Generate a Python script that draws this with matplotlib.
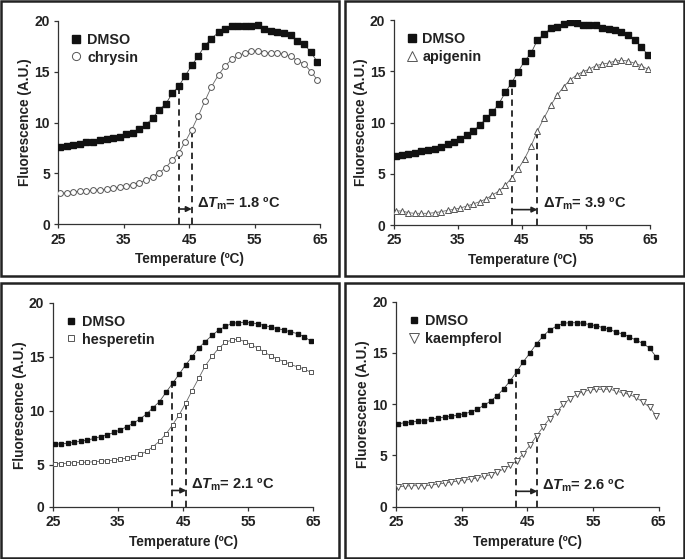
import numpy as np
import matplotlib.pyplot as plt
from matplotlib.patches import Rectangle

plt.rcParams['font.family'] = ['Liberation Sans', 'DejaVu Sans']
plt.rcParams['font.weight'] = 'bold'
plt.rcParams['mathtext.fontset'] = 'custom'
plt.rcParams['mathtext.rm'] = 'Liberation Sans:bold'
plt.rcParams['mathtext.it'] = 'Liberation Sans:bold:italic'
plt.rcParams['mathtext.bf'] = 'Liberation Sans:bold'

# temperatures (deg C) of the melt curve readings
temps = [25.3, 26.3, 27.3, 28.3, 29.3, 30.3, 31.4, 32.4, 33.4, 34.4,
         35.4, 36.4, 37.4, 38.4, 39.4, 40.4, 41.4, 42.4, 43.4, 44.4,
         45.4, 46.4, 47.4, 48.4, 49.5, 50.5, 51.5, 52.5, 53.5, 54.5,
         55.5, 56.5, 57.5, 58.5, 59.5, 60.5, 61.5, 62.6, 63.6, 64.6]

# panel A: DMSO vs chrysin
dmso_a = [7.6, 7.7, 7.8, 7.9, 8.05, 8.1, 8.25, 8.35, 8.5, 8.6,
          8.85, 9.0, 9.4, 9.8, 10.4, 11.25, 11.8, 12.85, 13.55, 14.6,
          15.6, 16.55, 17.55, 18.25, 18.85, 19.2, 19.5, 19.5, 19.5, 19.5,
          19.6, 19.2, 19.0, 18.9, 18.8, 18.6, 18.05, 17.7, 16.9, 15.95]
chrysin = [3.03, 3.1, 3.2, 3.23, 3.3, 3.33, 3.4, 3.45, 3.55, 3.65,
           3.8, 3.9, 4.1, 4.35, 4.65, 5.05, 5.55, 6.3, 7.0, 8.1,
           9.3, 10.65, 12.1, 13.5, 14.7, 15.55, 16.2, 16.6, 16.8, 17.0,
           17.05, 16.85, 16.85, 16.85, 16.7, 16.55, 16.05, 15.75, 15.0, 14.2]

# panel B: DMSO vs apigenin
dmso_b = [6.76, 6.83, 6.93, 7.02, 7.2, 7.28, 7.45, 7.64, 7.9, 8.13,
          8.42, 8.8, 9.2, 9.72, 10.4, 11.0, 11.84, 12.94, 13.9, 14.96,
          16.0, 16.75, 18.05, 18.6, 19.2, 19.35, 19.64, 19.8, 19.74, 19.48,
          19.48, 19.5, 19.22, 19.15, 19.0, 18.83, 18.54, 18.05, 17.4, 16.6]
apigenin = [1.37, 1.37, 1.2, 1.14, 1.14, 1.14, 1.2, 1.3, 1.43, 1.53,
            1.66, 1.85, 2.05, 2.28, 2.54, 2.93, 3.32, 3.87, 4.62, 5.46,
            6.47, 7.7, 9.17, 10.4, 11.7, 12.68, 13.5, 14.15, 14.63, 14.96,
            15.2, 15.54, 15.7, 15.8, 16.0, 16.07, 16.0, 15.77, 15.54, 15.2]

# panel C: DMSO vs hesperetin
dmso_c = [6.92, 6.95, 7.0, 7.1, 7.2, 7.3, 7.45, 7.63, 7.8, 8.0,
          8.25, 8.55, 8.86, 9.26, 9.7, 10.3, 10.86, 11.72, 12.55, 13.38,
          14.25, 15.0, 15.8, 16.4, 17.0, 17.48, 17.8, 18.1, 18.15, 18.2,
          18.12, 18.06, 17.88, 17.75, 17.6, 17.48, 17.3, 17.14, 16.86, 16.46]
hesperetin = [5.11, 5.11, 5.17, 5.2, 5.23, 5.26, 5.29, 5.35, 5.38, 5.45,
              5.54, 5.63, 5.78, 5.97, 6.25, 6.7, 7.2, 7.88, 8.7, 9.63,
              10.7, 11.88, 13.0, 14.15, 15.08, 15.8, 16.34, 16.55, 16.62, 16.4,
              16.1, 15.8, 15.42, 15.08, 14.8, 14.55, 14.3, 14.06, 13.88, 13.57]

# panel D: DMSO vs kaempferol
dmso_d = [8.07, 8.2, 8.27, 8.33, 8.39, 8.52, 8.65, 8.75, 8.81, 8.94,
          9.07, 9.24, 9.53, 9.89, 10.3, 10.83, 11.5, 12.3, 13.2, 14.15,
          15.0, 15.9, 16.65, 17.24, 17.63, 17.9, 17.95, 17.95, 17.9, 17.76,
          17.66, 17.46, 17.3, 17.04, 16.85, 16.59, 16.26, 15.93, 15.48, 14.63]
kaempferol = [1.95, 2.0, 2.05, 2.05, 2.05, 2.1, 2.2, 2.3, 2.4, 2.5,
              2.57, 2.7, 2.8, 2.96, 3.12, 3.38, 3.67, 4.03, 4.5, 5.17,
              6.0, 6.9, 7.8, 8.6, 9.27, 10.0, 10.54, 10.96, 11.22, 11.38,
              11.45, 11.45, 11.48, 11.28, 11.12, 10.96, 10.67, 10.2, 9.72, 8.88]

names = ['chrysin', 'apigenin', 'hesperetin', 'kaempferol']
markers = ['o', '^', 's', 'v']
tm_dmso = [43.4, 43.4, 43.3, 43.3]
tm_cmpd = [45.4, 47.4, 45.5, 46.5]
delta_tm = ['1.8', '3.9', '2.1', '2.6']

W, H = 685, 559
fig = plt.figure(figsize=(6.85, 5.59), dpi=100)

# axes boxes in pixels: left, top, right, bottom
boxes = [(58.3, 20.7, 320.0, 224.3),
         (393.7, 20.0, 650.3, 225.0),
         (52.7, 302.7, 313.3, 506.7),
         (396.0, 301.7, 658.7, 506.7)]
# panel frames in pixels
frames = [(1.2, 1.2, 338.7, 275.5),
          (345.3, 1.2, 683.7, 275.5),
          (1.2, 282.5, 338.7, 557.8),
          (345.3, 282.5, 683.7, 557.8)]

for l, t, r, b in frames:
    fig.patches.append(Rectangle((l / W, 1 - b / H), (r - l) / W, (b - t) / H,
                                 transform=fig.transFigure, fill=False,
                                 edgecolor='#222222', linewidth=1.8))

dmso_all = [dmso_a, dmso_b, dmso_c, dmso_d]
cmpd_all = [chrysin, apigenin, hesperetin, kaempferol]
msizes = [4.2, 4.8, 3.5, 4.8]

for i in range(4):
    l, t, r, b = boxes[i]
    ax = fig.add_axes([l / W, 1 - b / H, (r - l) / W, (b - t) / H])
    d = dmso_all[i]
    c = cmpd_all[i]
    ax.plot(temps, d, '-', color='#444444', lw=0.6, zorder=1)
    ax.plot(temps, c, '-', color='#666666', lw=0.6, zorder=1)
    h1, = ax.plot(temps, d, 's', color='#111111', ms=3.8 if i < 2 else 3.5,
                  mec='#111111', lw=0, zorder=3, label='DMSO')
    h2, = ax.plot(temps, c, markers[i], mfc='white', mec='#555555', mew=0.7,
                  ms=msizes[i], lw=0, zorder=3, label=names[i])

    ymin = 1.14 if i == 2 else 0
    y1 = np.interp(tm_dmso[i], temps, d)
    y2 = np.interp(tm_cmpd[i], temps, c)
    ax.plot([tm_dmso[i], tm_dmso[i]], [ymin, y1], '--', color='#222222',
            lw=1.3, dashes=(3.5, 2.5), zorder=2)
    ax.plot([tm_cmpd[i], tm_cmpd[i]], [ymin, y2], '--', color='#222222',
            lw=1.3, dashes=(3.5, 2.5), zorder=2)
    ya = ymin + 1.5
    ax.annotate('', xy=(tm_cmpd[i], ya), xytext=(tm_dmso[i], ya),
                arrowprops=dict(arrowstyle='-|>', color='#222222', lw=1.2,
                                shrinkA=0, shrinkB=0, mutation_scale=8))
    ax.text(tm_cmpd[i] + 0.8, ya + 0.55, 'Δ$\\mathit{T}_{\\mathrm{m}}$= ' + delta_tm[i] + ' ºC',
            fontsize=10.5, fontweight='bold', color='#222222', va='center', ha='left')

    ax.set_xlim(25, 65)
    ax.set_ylim(ymin, 20)
    ax.set_xticks([25, 35, 45, 55, 65])
    if i == 2:
        ax.set_yticks([ymin, 5, 10, 15, 20])
        ax.set_yticklabels(['0', '5', '10', '15', '20'])
    else:
        ax.set_yticks([0, 5, 10, 15, 20])
    for s in ['top', 'right']:
        ax.spines[s].set_visible(False)
    for s in ['left', 'bottom']:
        ax.spines[s].set_color('#333333')
        ax.spines[s].set_linewidth(0.9)
    ax.tick_params(length=3, width=0.9, color='#333333', labelsize=10,
                   labelcolor='#222222', pad=3)
    for lab in ax.get_xticklabels() + ax.get_yticklabels():
        lab.set_fontweight('bold')
    ax.set_xlabel('Temperature (ºC)', fontsize=9.8, fontweight='bold',
                  color='#222222', labelpad=4)
    ax.set_ylabel('Fluorescence (A.U.)', fontsize=9.8, fontweight='bold',
                  color='#222222', labelpad=1.5)
    ax.legend(handles=[h1, h2], loc='upper left', bbox_to_anchor=(0.05, 0.94),
              frameon=False, handlelength=0.7, handletextpad=0.4,
              labelspacing=0.25, borderpad=0, borderaxespad=0,
              prop=dict(size=10.4, weight='bold'), markerscale=1.4,
              labelcolor='#222222')

fig.savefig('out.png', dpi=100)
